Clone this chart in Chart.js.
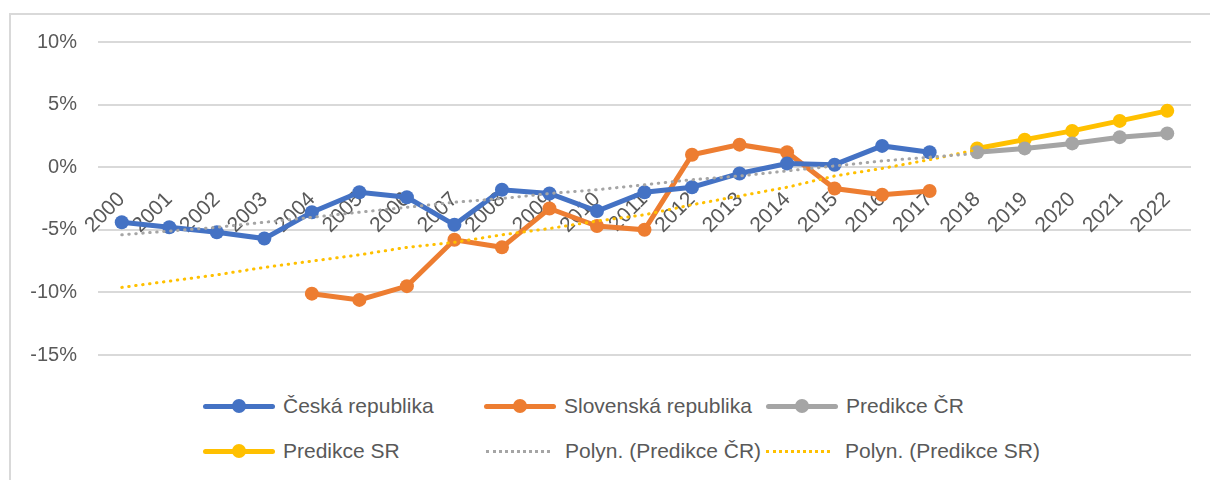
<!DOCTYPE html>
<html>
<head>
<meta charset="utf-8">
<script src="https://cdn.jsdelivr.net/npm/chart.js@4.4.1/dist/chart.umd.min.js"></script>
<style>
  html, body { margin: 0; padding: 0; background: #fff; overflow: hidden; }
  body { width: 1210px; height: 480px; position: relative; font-family: "Liberation Sans", Arial, sans-serif; color: #595959; }
  #frame { position: absolute; left: 9px; top: 13px; width: 1260px; height: 520px; border: 2px solid #d9d9d9; box-sizing: border-box; }
  #wrap { position: absolute; left: 0; top: 0; width: 1210px; height: 388px; }
  .item { position: absolute; display: flex; align-items: center; height: 30px; font-size: 21px; white-space: nowrap; }
  .swatch { position: relative; width: 72px; height: 5px; margin-right: 8px; border-radius: 3px; }
  .swatch .dot { position: absolute; left: 29px; top: -4.5px; width: 14px; height: 14px; border-radius: 50%; }
  .dotted { width: 64px; height: 0; border-top: 3px dotted; margin-right: 15px; }
</style>
</head>
<body>
<div id="frame"></div>
<div id="wrap"><canvas id="chart"></canvas></div>
<div id="legend"></div>
<script>
  // category labels
  const years = ["2000", "2001", "2002", "2003", "2004", "2005", "2006", "2007", "2008", "2009", "2010", "2011",
    "2012", "2013", "2014", "2015", "2016", "2017", "2018", "2019", "2020", "2021", "2022"];

  // values in %
  const ceskaRepublika = [-4.4, -4.8, -5.2, -5.7, -3.6, -2.0, -2.4, -4.6, -1.8, -2.1, -3.5, -2.0,
    -1.6, -0.5, 0.3, 0.2, 1.7, 1.2, null, null, null, null, null];
  const slovenskaRepublika = [null, null, null, null, -10.1, -10.6, -9.5, -5.8, -6.4, -3.3, -4.7, -5.0,
    1.0, 1.8, 1.2, -1.7, -2.2, -1.9, null, null, null, null, null];
  const predikceCR = [null, null, null, null, null, null, null, null, null, null, null, null,
    null, null, null, null, null, null, 1.2, 1.5, 1.9, 2.4, 2.7];
  const predikceSR = [null, null, null, null, null, null, null, null, null, null, null, null,
    null, null, null, null, null, null, 1.5, 2.2, 2.9, 3.7, 4.5];

  // trendlines
  const polynCR = [-5.4, -5.1, -4.8, -4.4, -4.0, -3.6, -3.2, -2.8, -2.5, -2.1, -1.8, -1.4,
    -1.0, -0.7, -0.3, 0.1, 0.5, 0.8, 1.1, null, null, null, null];
  const polynSR = [-9.6, -9.1, -8.6, -8.0, -7.5, -7.0, -6.4, -6.0, -5.4, -4.9, -4.3, -3.8,
    -3.0, -2.3, -1.6, -0.7, -0.1, 0.6, 1.4, null, null, null, null];

  const yTicks = [-15, -10, -5, 0, 5, 10];

  const BLUE = "#4472c4";
  const ORANGE = "#ed7d31";
  const GRAY = "#a5a5a5";
  const YELLOW = "#ffc000";
  const TEXT = "#595959";

  const solid = (label, data, color) => ({
    label: label,
    data: data,
    borderColor: color,
    backgroundColor: color,
    borderWidth: 5,
    pointRadius: 7,
    pointBorderWidth: 0,
    pointBackgroundColor: color,
    spanGaps: false,
    order: 2,
  });

  const dotted = (label, data, color) => ({
    label: label,
    data: data,
    borderColor: color,
    borderWidth: 3,
    borderDash: [0.5, 6.5],
    borderCapStyle: "round",
    pointRadius: 0,
    fill: false,
    order: 1,
  });

  const ctx = document.getElementById("chart").getContext("2d");
  new Chart(ctx, {
    type: "line",
    data: {
      labels: years,
      datasets: [
        solid("Česká republika", ceskaRepublika, BLUE),
        solid("Slovenská republika", slovenskaRepublika, ORANGE),
        solid("Predikce ČR", predikceCR, GRAY),
        solid("Predikce SR", predikceSR, YELLOW),
        dotted("Polyn. (Predikce ČR)", polynCR, GRAY),
        dotted("Polyn. (Predikce SR)", polynSR, YELLOW),
      ],
    },
    options: {
      responsive: true,
      maintainAspectRatio: false,
      animation: false,
      layout: { padding: { top: 42, right: 19, bottom: 18, left: 0 } },
      plugins: { legend: { display: false }, tooltip: { enabled: false } },
      scales: {
        x: {
          position: { y: 0 },
          offset: true,
          grid: { display: false, drawTicks: false },
          border: { display: false },
          ticks: {
            color: TEXT,
            font: { family: "'Liberation Sans', Arial, sans-serif", size: 21 },
            minRotation: 45,
            maxRotation: 45,
            autoSkip: false,
            padding: 20,
          },
        },
        y: {
          min: -15,
          max: 10,
          afterBuildTicks: (scale) => {
            scale.ticks = yTicks.map((v) => ({ value: v }));
          },
          afterFit: (scale) => {
            scale.width = 98;
          },
          grid: { color: "#d9d9d9", lineWidth: 2, drawTicks: false },
          border: { display: false },
          ticks: {
            color: TEXT,
            font: { family: "'Liberation Sans', Arial, sans-serif", size: 20 },
            padding: 21,
            callback: (v) => v + "%",
          },
        },
      },
    },
  });

  // legend laid out like the Excel one: 3 columns, 2 rows
  const legendItems = [
    { text: "Česká republika", color: BLUE, type: "solid", x: 203, y: 406 },
    { text: "Slovenská republika", color: ORANGE, type: "solid", x: 484, y: 406 },
    { text: "Predikce ČR", color: GRAY, type: "solid", x: 766, y: 406 },
    { text: "Predikce SR", color: YELLOW, type: "solid", x: 203, y: 451 },
    { text: "Polyn. (Predikce ČR)", color: GRAY, type: "dotted", x: 486, y: 451 },
    { text: "Polyn. (Predikce SR)", color: YELLOW, type: "dotted", x: 766, y: 451 },
  ];
  const legend = document.getElementById("legend");
  legendItems.forEach((it) => {
    const el = document.createElement("div");
    el.className = "item";
    el.style.left = it.x + "px";
    el.style.top = it.y - 15 + "px";
    const sw = document.createElement("span");
    if (it.type === "solid") {
      sw.className = "swatch";
      sw.style.background = it.color;
      const dot = document.createElement("span");
      dot.className = "dot";
      dot.style.background = it.color;
      sw.appendChild(dot);
    } else {
      sw.className = "dotted";
      sw.style.borderColor = it.color;
    }
    const label = document.createElement("span");
    label.textContent = it.text;
    el.appendChild(sw);
    el.appendChild(label);
    legend.appendChild(el);
  });
</script>
</body>
</html>
